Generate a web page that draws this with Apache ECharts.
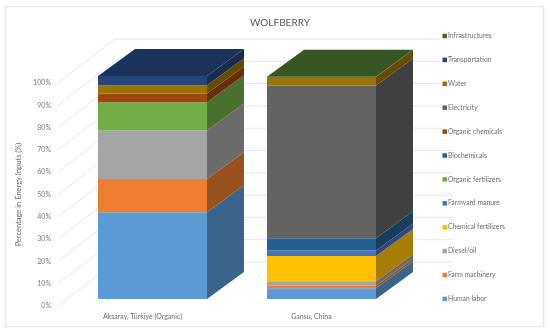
<!DOCTYPE html>
<html><head><meta charset="utf-8">
<style>html,body{margin:0;padding:0;background:#fff}#c{width:550px;height:333px}</style>
<script src="https://cdn.jsdelivr.net/npm/echarts@6/dist/echarts.min.js"></script>
</head><body><div id="c"></div>
<script>
const categories = ['Aksaray, Türkiye (Organic)', 'Gansu, China'];
const yTicks = [0,10,20,30,40,50,60,70,80,90,100];
const humanLabor = [38.9, 4.8];
const farmMachinery = [14.9, 1.1];
const dieselOil = [21.8, 2.1];
const chemicalFertilizers = [0, 11.3];
const farmyardManure = [0, 2.5];
const organicFertilizers = [12.6, 0];
const biochemicals = [0, 5.4];
const organicChemicals = [3.9, 0];
const electricity = [0, 68.5];
const water = [3.8, 3.9];
const transportation = [4.1, 0];
const infrastructures = [0, 0.1];

const stack = [
 ['Human labor', humanLabor, '#5B9BD5', '#3A648A'],
 ['Farm machinery', farmMachinery, '#ED7D31', '#9A5120'],
 ['Diesel/oil', dieselOil, '#A5A5A5', '#6B6B6B'],
 ['Chemical fertilizers', chemicalFertilizers, '#FFC000', '#A67D00'],
 ['Farmyard manure', farmyardManure, '#4472C4', '#2C4A7F'],
 ['Organic fertilizers', organicFertilizers, '#70AD47', '#49702E'],
 ['Biochemicals', biochemicals, '#255E91', '#183D5E'],
 ['Organic chemicals', organicChemicals, '#9E480E', '#672F09'],
 ['Electricity', electricity, '#636363', '#404040'],
 ['Water', water, '#997300', '#634B00'],
 ['Transportation', transportation, '#264478', '#192C4E'],
 ['Infrastructures', infrastructures, '#43682B', '#2C441C']
];
// projection offsets (px)
const front = [10, -7], bdepth = [37, -27], wall = [57, -44];
const barFrac = 0.645;
const topFace = {Transportation:'#1B325A', Infrastructures:'#375623'};

const cum = categories.map(() => 0);
const series = [{
  type:'custom', name:'walls', silent:true, z:1, clip:false,
  data: yTicks.map(t => [0, t]),
  encode:{x:0,y:1},
  renderItem(p, api){
    const t = api.value(1);
    const c = api.coord([0, t]);
    const x0 = p.coordSys.x, y = c[1];
    const xEnd = t >= 60 ? 441 : 453;
    const st = {stroke:'#E6E6E6', lineWidth:1, fill:null};
    return {type:'group', children:[
      {type:'line', shape:{x1:x0,y1:y,x2:x0+wall[0],y2:y+wall[1]}, style:st},
      {type:'line', shape:{x1:x0+wall[0],y1:y+wall[1],x2:xEnd,y2:y+wall[1]}, style:st}
    ]};
  }
}];
const lastIdx = categories.map((_, i) => { let k = 0; stack.forEach((s, j) => { if (s[1][i] > 0) k = j; }); return k; });
stack.forEach((s, j) => {
  const data = s[1].map((v, i) => { const d = [i, cum[i], cum[i] + v]; cum[i] += v; return d; });
  series.push({
    type:'custom', name:s[0], z:2, clip:false, itemStyle:{color:s[2]},
    data, encode:{x:0,y:2},
    renderItem(p, api){
      const i = api.value(0), lo = api.value(1), hi = api.value(2);
      if (hi <= lo) return null;
      const a = api.coord([i, lo]), b = api.coord([i, hi]);
      const w = api.size([1, 0])[0] * barFrac;
      const xl = a[0] + front[0] - w / 2, xr = xl + w;
      const y0 = a[1] + front[1], y1 = b[1] + front[1];
      const dx = bdepth[0], dy = bdepth[1];
      const kids = [
        {type:'rect', shape:{x:xl, y:y1, width:w, height:y0 - y1}, style:{fill:s[2]}},
        {type:'polygon', shape:{points:[[xr,y0],[xr+dx,y0+dy],[xr+dx,y1+dy],[xr,y1]]}, style:{fill:s[3]}}
      ];
      if (j === lastIdx[i]) kids.push({type:'polygon',
        shape:{points:[[xl,y1],[xr,y1],[xr+dx,y1+dy],[xl+dx,y1+dy]]},
        style:{fill: topFace[s[0]] || s[3]}});
      return {type:'group', children:kids};
    }
  });
});
const chart = echarts.init(document.getElementById('c'), null, {renderer:'canvas'});
const font = 'Lato, "Open Sans", sans-serif';
chart.setOption({
  animation:false,
  backgroundColor:'#fff',
  textStyle:{fontFamily:font},
  title:{text:'WOLFBERRY', left:275, top:13, textAlign:'center',
    textStyle:{fontFamily:font, fontSize:10, fontWeight:'normal', color:'#595959'}},
  grid:{left:58, top:83, width:338, height:223, containLabel:false},
  xAxis:{type:'category', data:categories, axisLine:{show:false}, axisTick:{show:false},
    axisLabel:{color:'#6E6E6E', fontSize:7, margin:7, fontFamily:font}},
  yAxis:{type:'value', min:0, max:100, interval:10, splitLine:{show:false},
    axisLine:{show:false}, axisTick:{show:false},
    axisLabel:{color:'#7A7A7A', fontSize:7, margin:7, fontFamily:font, formatter:'{value}%'},
    name:'Percentage in Energy Inputs (%)', nameLocation:'middle', nameGap:22, nameRotate:90,
    nameTextStyle:{color:'#6E6E6E', fontSize:7.5, fontFamily:font}},
  legend:{orient:'vertical', left:442.5, top:32, padding:0, itemWidth:4.5, itemHeight:4.5, itemGap:15.9,
    icon:'rect', data:stack.map(s => s[0]).reverse(), selectedMode:false,
    textStyle:{color:'#6E6E6E', fontSize:6.8, lineHeight:8, padding:[0,0,0,-4], fontFamily:font}},
  graphic:[{type:'rect', silent:true, z:-1, shape:{x:5.5,y:6.5,width:538,height:320},
    style:{fill:'#fff', stroke:'#E8E8E8', lineWidth:1.5}}],
  series
});
</script></body></html>
